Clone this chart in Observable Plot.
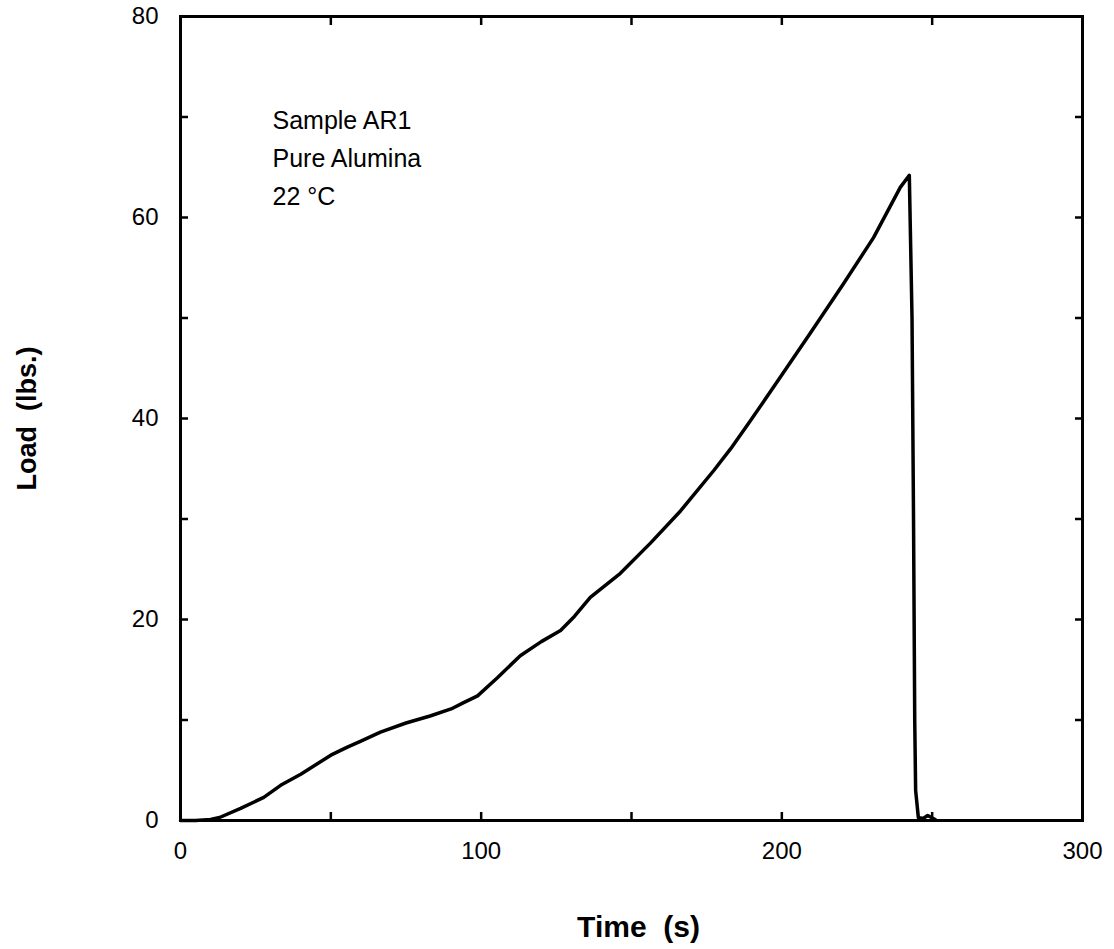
<!DOCTYPE html>
<html>
<head>
<meta charset="utf-8">
<script src="https://cdn.jsdelivr.net/npm/d3@7"></script>
<script src="https://cdn.jsdelivr.net/npm/@observablehq/plot@0.6"></script>
<style>
  html, body { margin: 0; padding: 0; background: #fff; }
  #chart svg { display: block; }
</style>
</head>
<body>
<div id="chart"></div>
<script>
// Data
const timeS = [0, 5, 10, 13, 20, 27.7, 33.3, 40, 50, 55.5, 60, 66.5, 75, 83, 90, 94, 98.8, 105.4, 113, 120, 126.4, 131, 136.3, 146.3, 156.3, 166.3, 177.3, 183, 189.6, 197.2, 209.5, 220.5, 230.5, 239.4, 242.4, 243.3, 243.8, 244.2, 244.5, 245.4, 247, 248.5, 251];
const loadLbs = [0, 0, 0.1, 0.3, 1.2, 2.3, 3.5, 4.6, 6.5, 7.3, 7.9, 8.8, 9.7, 10.4, 11.1, 11.7, 12.4, 14.2, 16.4, 17.8, 18.9, 20.3, 22.2, 24.6, 27.6, 30.8, 34.8, 37.0, 39.8, 43.1, 48.5, 53.4, 58.0, 63.0, 64.2, 50, 30, 10, 3, 0.3, 0.2, 0.5, 0.1];

const xTicksMajor = [0, 100, 200, 300];
const xTicksAll = [50, 100, 150, 200, 250];
const yTicksMajor = [0, 20, 40, 60, 80];
const yTicksAll = [10, 20, 30, 40, 50, 60, 70];

const noteLines = ["Sample AR1", "Pure Alumina", "22 °C"];
const xLabel = "Time  (s)";
const yLabel = "Load  (lbs.)";

const curve = timeS.map((t, i) => ({t, load: loadLbs[i]}));

const font = "'Liberation Sans', Arial, Helvetica, sans-serif";

const chart = Plot.plot({
  width: 1114,
  height: 949,
  marginLeft: 180,
  marginRight: 32,
  marginTop: 16,
  marginBottom: 129,
  style: {fontFamily: font, background: "#fff", color: "#000"},
  x: {domain: [0, 300]},
  y: {domain: [0, 80]},
  marks: [
    // inward ticks
    Plot.axisX(xTicksAll, {anchor: "bottom", tickSize: -8, strokeWidth: 2.5, text: null, label: null}),
    Plot.axisX(xTicksAll, {anchor: "top", tickSize: -8, strokeWidth: 2.5, text: null, label: null}),
    Plot.axisY(yTicksAll, {anchor: "left", tickSize: -8, strokeWidth: 2.5, text: null, label: null}),
    Plot.axisY(yTicksAll, {anchor: "right", tickSize: -8, strokeWidth: 2.5, text: null, label: null}),
    // tick labels
    Plot.axisX(xTicksMajor, {anchor: "bottom", tickSize: 0, tickPadding: 21, fontSize: 24, label: null, fill: "#000"}),
    Plot.axisY(yTicksMajor, {anchor: "left", tickSize: 0, tickPadding: 22, fontSize: 24, label: null, fill: "#000"}),
    Plot.frame({stroke: "#000", strokeWidth: 3}),
    Plot.line(curve, {x: "t", y: "load", stroke: "#000", strokeWidth: 3.5, curve: "linear"}),
    // annotation
    Plot.text([noteLines.join("\n")], {
      frameAnchor: "top-left", dx: 92, dy: 86, textAnchor: "start", lineAnchor: "top",
      fontSize: 25, lineHeight: 1.52, fill: "#000"
    }),
    // axis titles
    Plot.text([xLabel], {
      frameAnchor: "bottom", dx: 7, dy: 116, textAnchor: "middle", lineAnchor: "bottom",
      fontSize: 30, fontWeight: "bold", fill: "#000", style: "letter-spacing:2px"
    }),
    Plot.text([yLabel], {
      frameAnchor: "left", dx: -153, dy: 0, rotate: -90, textAnchor: "middle", lineAnchor: "middle",
      fontSize: 27, fontWeight: "bold", fill: "#000", style: "letter-spacing:1px"
    })
  ]
});
document.getElementById("chart").appendChild(chart);
</script>
</body>
</html>
